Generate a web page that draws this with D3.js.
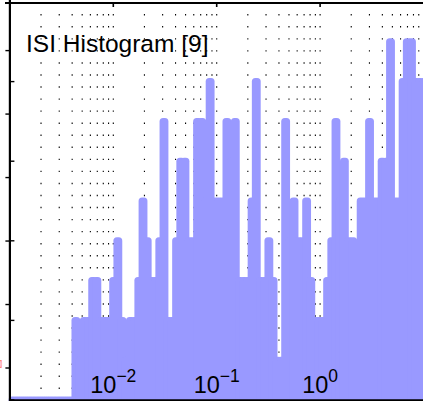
<!DOCTYPE html>
<html><head><meta charset="utf-8">
<script src="https://cdn.jsdelivr.net/npm/d3@7"></script>
<style>html,body{margin:0;padding:0;background:#fff;overflow:hidden}svg{display:block}</style>
</head><body><svg id="chart" width="423" height="401"></svg>
<script>
// ---- data ----
const title = "ISI Histogram [9]";
const binLogStart = -2.9703;   // log10 of the first bin centre (seconds)
const binLogStep = 0.04057;    // bin width in decades
const counts = [
  0,0,0,0,0,0,0,0,0,0, 0,0,0,0,0,2,1,2,2,3,
  3,2,2,2,3,4,2,1,2,2, 3,5,4,3,3,4,7,2,2,4,
  6,6,4,4,7,7,5,8,5,5, 5,7,6,7,3,3,3,5,8,3,
  3,4,3,1,1,7,4,5,4,4, 5,3,2,2,2,3,4,7,5,6,
  4,4,3,5,5,7,5,5,6,6, 9,5,5,8,9,9,8,8,8
];
const xDomain = [1e-3, 1e1];
const xLabelExponents = ["−2", "−1", "0"];
const xLabelValues = [1e-2, 1e-1, 1e0];
const yMax = 9.975;
const yTicks = [0, 2, 4, 6, 8];
const otherTicks = [0, 1, 2, 3, 4, 5];
const redLabel = "0";

// ---- layout ----
const svg = d3.select("#chart");
const font = "'Liberation Sans', Arial, Helvetica, sans-serif";
const barColor = "#9999ff";
const x = d3.scaleLog().domain(xDomain).range([9.9, 423.5]);
const y = d3.scaleLinear().domain([0, yMax]).range([400, 3]);
const y2 = d3.scaleLinear().domain([0, 5]).range([368, 50.6]);
const x0 = x(xDomain[0]);

// dotted vertical grid (major + minor)
const gridVals = x.ticks().filter(v => v > xDomain[0] * 1.01 && v < xDomain[1] * 0.99);
svg.append("g").selectAll("line").data(gridVals).join("line")
  .attr("x1", d => x(d)).attr("x2", d => x(d))
  .attr("y1", y(0) + 1.05).attr("y2", y(yMax))
  .attr("stroke", "#000").attr("stroke-width", 1.1)
  .attr("stroke-dasharray", "1.4 10.65");

// bars (thick round-joined outline gives the rounded tops)
const bins = counts.map((c, j) => ({c, logc: binLogStart + j * binLogStep}));
const half = 0.22;
svg.append("g").selectAll("rect").data(bins).join("rect")
  .attr("x", d => x(Math.pow(10, d.logc - binLogStep * half)))
  .attr("width", d => x(Math.pow(10, d.logc + binLogStep * half)) - x(Math.pow(10, d.logc - binLogStep * half)))
  .attr("y", d => y(d.c))
  .attr("height", d => Math.max(0.05, y(0) - y(d.c)))
  .attr("fill", barColor).attr("stroke", barColor)
  .attr("stroke-width", 7).attr("stroke-linejoin", "round");

// title
svg.append("text").attr("x", 26).attr("y", 51.7)
  .attr("font-family", font).attr("font-size", 24.5).attr("fill", "#000")
  .text(title);

// x tick labels (inside the plot)
const lbl = svg.append("g").selectAll("text").data(xLabelValues).join("text")
  .attr("x", d => x(d)).attr("y", 393.3)
  .attr("text-anchor", "middle").attr("font-family", font).attr("fill", "#000");
lbl.append("tspan").attr("font-size", 23.5).text("10");
lbl.append("tspan").attr("font-size", 17.5).attr("dy", -11.6).text((d, i) => xLabelExponents[i]);

// axes lines
const ax = svg.append("g").attr("stroke", "#000");
ax.append("line").attr("x1", x0).attr("x2", x0).attr("y1", 0).attr("y2", 401).attr("stroke-width", 2.2);
ax.append("line").attr("x1", 5).attr("x2", 423).attr("y1", y(yMax)).attr("y2", y(yMax)).attr("stroke-width", 2);
ax.append("line").attr("x1", x0).attr("x2", 423).attr("y1", y(0) + 0.3).attr("y2", y(0) + 0.3).attr("stroke-width", 2);
// inward y ticks
ax.append("g").selectAll("line").data(yTicks).join("line")
  .attr("x1", x0).attr("x2", x0 + 4.5).attr("y1", d => y(d)).attr("y2", d => y(d)).attr("stroke-width", 1.4);
// outward ticks of the underlying axes
ax.append("g").selectAll("line").data(otherTicks).join("line")
  .attr("x1", x0 - 4.5).attr("x2", x0).attr("y1", d => y2(d)).attr("y2", d => y2(d)).attr("stroke-width", 1.4);
// top x ticks
ax.append("g").selectAll("line").data(xLabelValues).join("line")
  .attr("x1", d => x(d)).attr("x2", d => x(d)).attr("y1", y(yMax)).attr("y2", y(yMax) + 4).attr("stroke-width", 1.6);

// red label of neighbouring axes (only a sliver shows at the left edge)
svg.append("text").attr("x", 0).attr("y", 367.5)
  .attr("font-family", font).attr("font-size", 10).attr("fill", "#ff0000")
  .attr("textLength", 2).attr("lengthAdjust", "spacingAndGlyphs").text(redLabel);
</script></body></html>
